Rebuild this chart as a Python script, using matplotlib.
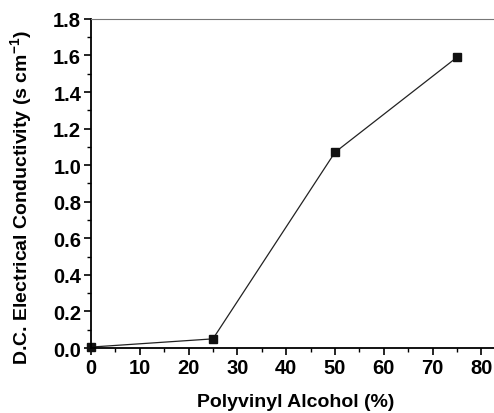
import matplotlib.pyplot as plt
from matplotlib.ticker import MultipleLocator

pva = [0, 25, 50, 75]
conductivity = [0.005, 0.05, 1.07, 1.59]

plt.rcParams['font.family'] = 'Liberation Sans'
plt.rcParams['font.weight'] = 'bold'
plt.rcParams['mathtext.fontset'] = 'custom'
plt.rcParams['mathtext.bf'] = 'Liberation Sans:bold'
plt.rcParams['mathtext.rm'] = 'Liberation Sans:bold'

fig = plt.figure(figsize=(4.94, 4.14), dpi=100)
ax = fig.add_axes([0.184, 0.157, 0.83, 0.795])

ax.plot(pva, conductivity, color='#222222', lw=0.9, marker='s', ms=5.5, mfc='#111111', mec='#111111', clip_on=False)

ax.set_xlim(0, 84)
ax.set_ylim(0, 1.8)
ax.xaxis.set_major_locator(MultipleLocator(10))
ax.xaxis.set_minor_locator(MultipleLocator(5))
ax.yaxis.set_major_locator(MultipleLocator(0.2))
ax.yaxis.set_minor_locator(MultipleLocator(0.1))
ax.yaxis.set_major_formatter(plt.FormatStrFormatter('%.1f'))

ax.spines['right'].set_visible(False)
ax.spines['top'].set_color('#777777')
for s in ['left', 'bottom']:
    ax.spines[s].set_linewidth(1.3)
ax.tick_params(which='major', direction='out', length=5, width=1.2, labelsize=14.5, pad=2)
ax.tick_params(which='minor', direction='out', length=3, width=1.0)

ax.set_xlabel('Polyvinyl Alcohol (%)', fontsize=14, fontweight='bold', labelpad=12)
ax.set_ylabel('D.C. Electrical Conductivity (s cm$^{\\mathbf{-1}}$)', fontsize=14, fontweight='bold')
ax.yaxis.set_label_coords(-0.137, 0.46)

fig.savefig('out.png', dpi=100)
